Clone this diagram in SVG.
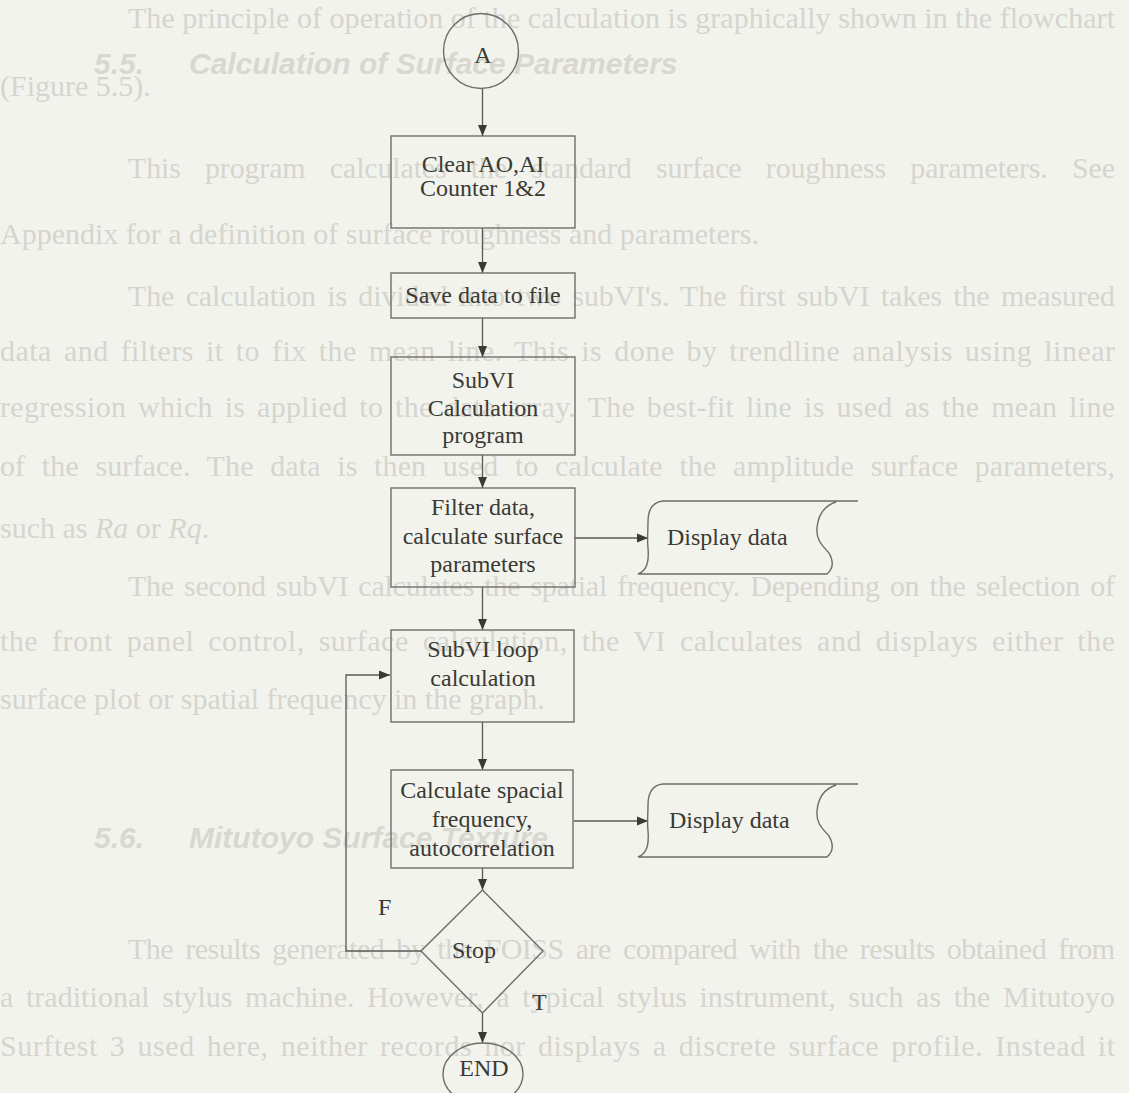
<svg xmlns="http://www.w3.org/2000/svg" width="1129" height="1093" viewBox="0 0 1129 1093">
  <style>
    .bg { fill: #f3f3ee; }
    .node { fill: none; stroke: #6e6e68; stroke-width: 1.4; }
    .label { font-family: "Liberation Serif", "Times New Roman", serif; font-size: 24px; fill: #3a3a34; text-anchor: middle; }
    .tag { font-family: "Liberation Serif", "Times New Roman", serif; font-size: 24px; fill: #3a3a34; }
    .edge { fill: none; stroke: #5a5a54; stroke-width: 1.3; }
    .faint { font-family: "Liberation Serif", "Times New Roman", serif; font-size: 30px; fill: #d5d5ce; }
    .faint-h { font-family: "Liberation Sans", Arial, sans-serif; font-size: 30px; font-weight: bold; font-style: italic; fill: #d8d8d1; }
  </style>
  <defs>
    <marker id="arrow" markerUnits="userSpaceOnUse" markerWidth="12" markerHeight="10" refX="11" refY="5" orient="auto">
      <path d="M0,0.5 L11,5 L0,9.5 Z" fill="#3a3a34"/>
    </marker>
    <path id="display-shape" d="M858,501 L663,501 C652,502 648,510 648,522 C648,532 647,540 648,548 C649,560 648,570 638,574 L827,574 C834,568 833,560 829,553 C822,545 816,540 817,528 C818,515 824,506 836,502"/>
  </defs>

  <rect class="bg" x="0" y="0" width="1129" height="1093"/>

  <!-- body text of the page behind the chart -->
  <g id="page-text">
    <text class="faint" x="128" y="28" textLength="987" lengthAdjust="spacing">The principle of operation of the calculation is graphically shown in the flowchart</text>
    <text class="faint-h" x="94" y="74">5.5.</text>
    <text class="faint-h" x="189" y="74">Calculation of Surface Parameters</text>
    <text class="faint" x="0" y="96">(Figure 5.5).</text>
    <text class="faint" x="128" y="178" word-spacing="17" textLength="987" lengthAdjust="spacing">This program calculates the standard surface roughness parameters. See</text>
    <text class="faint" x="0" y="244">Appendix for a definition of surface roughness and parameters.</text>
    <text class="faint" x="128" y="306" word-spacing="4" textLength="987" lengthAdjust="spacing">The calculation is divided into two subVI's. The first subVI takes the measured</text>
    <text class="faint" x="0" y="361" word-spacing="4" textLength="1115" lengthAdjust="spacing">data and filters it to fix the mean line. This is done by trendline analysis using linear</text>
    <text class="faint" x="0" y="417" word-spacing="4" textLength="1115" lengthAdjust="spacing">regression which is applied to the data array. The best-fit line is used as the mean line</text>
    <text class="faint" x="0" y="476" word-spacing="9" textLength="1115" lengthAdjust="spacing">of the surface. The data is then used to calculate the amplitude surface parameters,</text>
    <text class="faint" x="0" y="538">such as <tspan font-style="italic">Ra</tspan> or <tspan font-style="italic">Rq</tspan>.</text>
    <text class="faint" x="128" y="596" word-spacing="3" textLength="987" lengthAdjust="spacing">The second subVI calculates the spatial frequency. Depending on the selection of</text>
    <text class="faint" x="0" y="651" word-spacing="6" textLength="1115" lengthAdjust="spacing">the front panel control, surface calculation, the VI calculates and displays either the</text>
    <text class="faint" x="0" y="709">surface plot or spatial frequency in the graph.</text>
    <text class="faint-h" x="94" y="848">5.6.</text>
    <text class="faint-h" x="189" y="848">Mitutoyo Surface Texture</text>
    <text class="faint" x="128" y="959" word-spacing="5" textLength="987" lengthAdjust="spacing">The results generated by the FOISS are compared with the results obtained from</text>
    <text class="faint" x="0" y="1007" word-spacing="5" textLength="1115" lengthAdjust="spacing">a traditional stylus machine. However, a typical stylus instrument, such as the Mitutoyo</text>
    <text class="faint" x="0" y="1056" word-spacing="4" textLength="1115" lengthAdjust="spacing">Surftest 3 used here, neither records nor displays a discrete surface profile. Instead it</text>
  </g>

  <!-- connectors -->
  <g id="connectors">
    <line class="edge" x1="482.5" y1="88" x2="482.5" y2="136" marker-end="url(#arrow)"/>
    <line class="edge" x1="482.5" y1="228" x2="482.5" y2="273" marker-end="url(#arrow)"/>
    <line class="edge" x1="482.5" y1="318" x2="482.5" y2="357" marker-end="url(#arrow)"/>
    <line class="edge" x1="482.5" y1="455" x2="482.5" y2="488" marker-end="url(#arrow)"/>
    <line class="edge" x1="482.5" y1="587" x2="482.5" y2="630" marker-end="url(#arrow)"/>
    <line class="edge" x1="482.5" y1="722" x2="482.5" y2="770" marker-end="url(#arrow)"/>
    <line class="edge" x1="482.5" y1="868" x2="482.5" y2="890" marker-end="url(#arrow)"/>
    <line class="edge" x1="482.5" y1="1013" x2="482.5" y2="1043" marker-end="url(#arrow)"/>
    <line class="edge" x1="574" y1="538" x2="648" y2="538" marker-end="url(#arrow)"/>
    <line class="edge" x1="574" y1="821" x2="648" y2="821" marker-end="url(#arrow)"/>
    <polyline class="edge" points="421,951 346,951 346,675 390,675" marker-end="url(#arrow)"/>
    <text class="tag" x="378" y="915">F</text>
    <text class="tag" x="532" y="1010">T</text>
  </g>

  <!-- nodes -->
  <g id="start-a">
    <circle class="node" cx="481" cy="51" r="37.5"/>
    <text class="label" x="483" y="63">A</text>
  </g>
  <g id="clear-counters">
    <rect class="node" x="391" y="136" width="184" height="92"/>
    <text class="label" x="483" y="172">Clear AO,AI</text>
    <text class="label" x="483" y="196">Counter 1&amp;2</text>
  </g>
  <g id="save-data">
    <rect class="node" x="391" y="273" width="184" height="45"/>
    <text class="label" x="483" y="303">Save data to file</text>
  </g>
  <g id="subvi-calculation">
    <rect class="node" x="391" y="357" width="184" height="98"/>
    <text class="label" x="483" y="388">SubVI</text>
    <text class="label" x="483" y="416">Calculation</text>
    <text class="label" x="483" y="443">program</text>
  </g>
  <g id="filter-data">
    <rect class="node" x="391" y="488" width="184" height="99"/>
    <text class="label" x="483" y="515">Filter data,</text>
    <text class="label" x="483" y="544">calculate surface</text>
    <text class="label" x="483" y="572">parameters</text>
  </g>
  <g id="display-surface">
    <use href="#display-shape" class="node"/>
    <text class="tag" x="667" y="545">Display data</text>
  </g>
  <g id="subvi-loop">
    <rect class="node" x="391" y="630" width="183" height="92"/>
    <text class="label" x="483" y="657">SubVI loop</text>
    <text class="label" x="483" y="686">calculation</text>
  </g>
  <g id="spatial-frequency">
    <rect class="node" x="391" y="770" width="182" height="98"/>
    <text class="label" x="482" y="798">Calculate spacial</text>
    <text class="label" x="482" y="827">frequency,</text>
    <text class="label" x="482" y="856">autocorrelation</text>
  </g>
  <g id="display-frequency">
    <use href="#display-shape" class="node" transform="translate(0,283)"/>
    <text class="tag" x="669" y="828">Display data</text>
  </g>
  <g id="stop">
    <polygon class="node" points="482.5,890 543,951 482.5,1013 421,951"/>
    <text class="label" x="474" y="958">Stop</text>
  </g>
  <g id="end">
    <ellipse class="node" cx="483" cy="1074" rx="40" ry="31"/>
    <text class="label" x="484" y="1076">END</text>
  </g>
</svg>
